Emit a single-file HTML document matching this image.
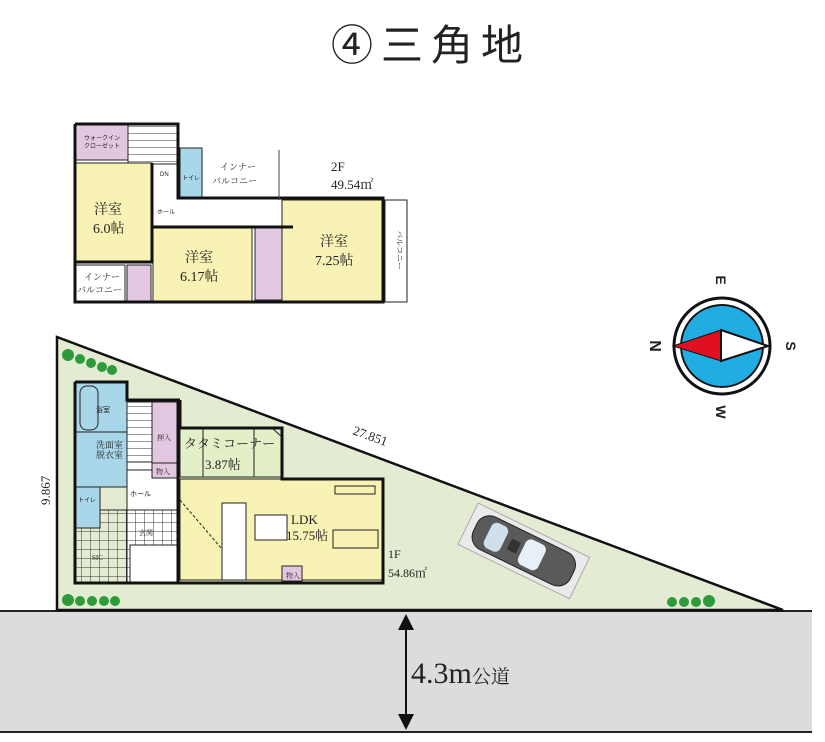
<!DOCTYPE html>
<html><head><meta charset="utf-8"><style>
html,body{margin:0;padding:0;background:#fff;}
svg{display:block;}
text{font-family:"Liberation Serif","Noto Serif CJK SC",serif;fill:#222;}
.s{font-family:"Liberation Sans","Noto Sans CJK JP",sans-serif;}
</style></head><body>
<svg width="825" height="742" viewBox="0 0 825 742" xmlns="http://www.w3.org/2000/svg">
<defs>
<pattern id="grid" width="9" height="9" patternUnits="userSpaceOnUse"><path d="M0 0H9M0 0V9" stroke="#333" stroke-width="1" fill="none"/></pattern>
<pattern id="stair" width="10" height="7" patternUnits="userSpaceOnUse"><path d="M0 0H10" stroke="#333" stroke-width="1" fill="none"/></pattern>
</defs>
<!-- title -->
<text x="331" y="60" font-size="42" letter-spacing="8" style="font-family:'Noto Sans CJK JP',sans-serif" fill="#111">④三角地</text>

<!-- road -->
<rect x="0" y="611" width="812" height="121" fill="#dcdcdc"/>
<line x1="0" y1="611" x2="812" y2="611" stroke="#222" stroke-width="2"/>
<line x1="0" y1="732" x2="812" y2="732" stroke="#222" stroke-width="2"/>
<line x1="406" y1="622" x2="406" y2="722" stroke="#111" stroke-width="2"/>
<polygon points="406,614 398,630 414,630" fill="#111"/>
<polygon points="406,730 398,714 414,714" fill="#111"/>
<text x="411" y="683" font-size="30">4.3m<tspan font-size="19" style="font-family:'Noto Serif CJK SC',serif">公道</tspan></text>

<!-- site -->
<polygon points="57,337 57,610 783,610" fill="#e3ecd3" stroke="#111" stroke-width="2.5"/>
<text x="352" y="434" font-size="13" transform="rotate(20 352 434)">27.851</text>
<text x="50" y="505" font-size="13" transform="rotate(-90 50 505)">9.867</text>
<g fill="#2e9b3a">
<circle cx="68" cy="355" r="6"/><circle cx="80" cy="359" r="5"/><circle cx="91" cy="363" r="5"/><circle cx="102" cy="367" r="5"/><circle cx="112" cy="370" r="5"/>
<circle cx="68" cy="600" r="6"/><circle cx="80" cy="601" r="5"/><circle cx="92" cy="601" r="5"/><circle cx="104" cy="601" r="5"/><circle cx="115" cy="601" r="5"/>
<circle cx="672" cy="602" r="5"/><circle cx="684" cy="602" r="5"/><circle cx="696" cy="602" r="5"/><circle cx="709" cy="601" r="6"/>
</g>

<!-- car -->
<g transform="rotate(26 522 550)">
<rect x="462" y="527" width="124" height="46" fill="#eaeaea" stroke="#aaa"/>
<rect x="470" y="532" width="108" height="36" rx="14" fill="#5a5a5a" stroke="#222"/>
<rect x="484" y="536" width="18" height="28" rx="6" fill="#cfe0ec"/>
<rect x="522" y="536" width="22" height="28" rx="6" fill="#e6f0f6"/>
<rect x="508" y="544" width="10" height="12" fill="#333"/>
</g>

<!-- 1F -->
<g stroke="#222" stroke-width="1">
<rect x="127" y="400" width="52" height="183" fill="#fff"/>
<rect x="127" y="402" width="25" height="60" fill="url(#stair)"/>
<rect x="75" y="510" width="104" height="73" fill="url(#grid)"/>
<rect x="127" y="470" width="52" height="40" fill="#fff"/>
<rect x="130" y="545" width="48" height="37" fill="#fff"/>
<rect x="75" y="382" width="52" height="105" fill="#a9d7ea"/>
<rect x="80" y="386" width="18" height="44" rx="7" fill="#a9d7ea"/>
<line x1="75" y1="432" x2="127" y2="432"/>
<rect x="75" y="487" width="25" height="41" fill="#a9d7ea"/>
<rect x="152" y="402" width="26" height="61" fill="#e3c6e0"/>
<rect x="152" y="463" width="26" height="15" fill="#e3c6e0"/>
<path d="M180 428 H272 L282 437 V477 H180 Z" fill="#e3efc6"/>
<line x1="203" y1="428" x2="203" y2="477"/><line x1="254" y1="428" x2="254" y2="477"/>
<rect x="180" y="479" width="203" height="101" fill="#f8f3b4"/>
<line x1="180" y1="500" x2="240" y2="570" stroke-dasharray="3,2"/>
<rect x="222" y="503" width="24" height="77" fill="#fff"/>
<rect x="282" y="566" width="20" height="15" fill="#e3c6e0"/>
<rect x="255" y="515" width="32" height="25" fill="#fff"/>
<rect x="333" y="530" width="45" height="18" fill="#f8f3b4"/>
<rect x="335" y="486" width="40" height="8" fill="#f8f3b4"/>
</g>
<g fill="none" stroke="#111" stroke-width="3">
<path d="M75 382 H127 V400 H180"/><path d="M75 382 V583 H383 V479 H282 V428 H180 V400"/>
<path d="M178 400 V583"/>
</g>
<text x="96" y="412" font-size="7" class="s">浴室</text>
<text x="96" y="448" font-size="9">洗面室</text><text x="96" y="458" font-size="9">脱衣室</text>
<text x="78" y="502" font-size="6" class="s">トイレ</text>
<text x="130" y="496" font-size="7" class="s">ホール</text>
<text x="92" y="560" font-size="7">SIC</text>
<text x="139" y="535" font-size="7">玄関</text>
<text x="157" y="440" font-size="7">押入</text>
<text x="156" y="474" font-size="7">物入</text>
<text x="184" y="448" font-size="13">タタミコーナー</text>
<text x="205" y="469" font-size="13">3.87帖</text>
<text x="291" y="524" font-size="13">LDK</text>
<text x="286" y="540" font-size="13">15.75帖</text>
<text x="286" y="578" font-size="7">物入</text>
<text x="388" y="558" font-size="12">1F</text>
<text x="388" y="577" font-size="12">54.86㎡</text>

<!-- 2F -->
<g stroke="#222" stroke-width="1">
<rect x="76" y="124" width="52" height="36" fill="#e3c6e0"/>
<rect x="128" y="124" width="50" height="40" fill="url(#stair)"/>
<rect x="180" y="148" width="22" height="50" fill="#a9d7ea"/>
<rect x="75" y="163" width="77" height="99" fill="#f8f3b4"/>
<rect x="75" y="265" width="50" height="38" fill="#fff"/>
<rect x="127" y="265" width="24" height="37" fill="#e3c6e0"/>
<rect x="153" y="227" width="99" height="75" fill="#f8f3b4"/>
<rect x="255" y="227" width="38" height="73" fill="#e3c6e0"/>
<rect x="282" y="200" width="101" height="102" fill="#f8f3b4"/>
<rect x="385" y="200" width="22" height="102" fill="#fff"/>
</g>
<g fill="none" stroke="#111" stroke-width="3">
<path d="M75 124 H178 V198 H383 V302 H75 V124"/>
<path d="M152 163 V262 H75"/><path d="M153 227 H293"/>
</g>
<line x1="279" y1="150" x2="279" y2="200" stroke="#444"/>
<text x="84" y="140" font-size="6" class="s">ウォークイン</text><text x="84" y="148" font-size="6" class="s">クローゼット</text>
<text x="182" y="180" font-size="6" class="s">トイレ</text>
<text x="160" y="176" font-size="6" class="s">DN</text>
<text x="157" y="214" font-size="6" class="s">ホール</text>
<text x="220" y="170" font-size="9">インナー</text><text x="212" y="184" font-size="9">バルコニー</text>
<text x="331" y="171" font-size="13">2F</text>
<text x="331" y="189" font-size="13">49.54㎡</text>
<text x="94" y="214" font-size="14">洋室</text><text x="93" y="233" font-size="14">6.0帖</text>
<text x="185" y="262" font-size="14">洋室</text><text x="180" y="281" font-size="14">6.17帖</text>
<text x="320" y="246" font-size="14">洋室</text><text x="315" y="265" font-size="14">7.25帖</text>
<text x="84" y="280" font-size="9">インナー</text><text x="77" y="293" font-size="9">バルコニー</text>
<text x="397" y="230" font-size="8" transform="rotate(90 397 230)">バルコニー</text>

<!-- compass -->
<circle cx="722" cy="346" r="48" fill="#fff" stroke="#111" stroke-width="3"/>
<circle cx="722" cy="346" r="41" fill="#1fade2" stroke="#111" stroke-width="2"/>
<circle cx="722" cy="346" r="43" fill="none" stroke="#fff" stroke-width="2"/>
<polygon points="673,346 721,330 721,361" fill="#e01020" stroke="#111" stroke-width="1"/>
<polygon points="721,330 768,346 721,361" fill="#fff" stroke="#111" stroke-width="2"/>
<text x="650" y="346" font-size="16" class="s" font-weight="bold" transform="rotate(90 650 346)" text-anchor="middle">N</text>
<text x="786" y="346" font-size="14" class="s" font-weight="bold" transform="rotate(90 786 346)" text-anchor="middle">S</text>
<text x="716" y="280" font-size="14" class="s" font-weight="bold" transform="rotate(90 716 280)" text-anchor="middle">E</text>
<text x="716" y="412" font-size="14" class="s" font-weight="bold" transform="rotate(90 716 412)" text-anchor="middle">W</text>
</svg>
</body></html>
